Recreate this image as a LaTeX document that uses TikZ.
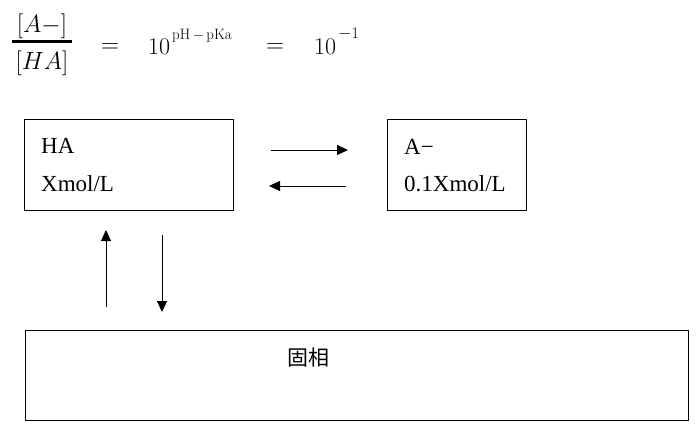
\documentclass[tikz,border=0pt]{standalone}
\usepackage{fontspec}
\newfontfamily\cjk{Noto Sans CJK JP}
\newfontfamily\lblfont{Liberation Serif}
\usetikzlibrary{arrows.meta}
\tikzset{
  box/.style={draw, line width=1.4pt, anchor=north west, inner sep=0pt},
  lbl/.style={anchor=base west, inner sep=0pt, font=\lblfont\fontsize{23}{26}\selectfont},
  arr/.style={line width=0.9pt, -{Triangle[length=11pt,width=10pt]}},
  mth/.style={inner sep=0pt, font=\fontsize{24}{28}\selectfont},
  sup/.style={anchor=base west, inner sep=0pt, font=\fontsize{15}{16}\selectfont},
}
\begin{document}
\begin{tikzpicture}[x=1pt,y=-1pt]
\useasboundingbox (0,0) rectangle (700,430);
% formula
\node[mth] (num) at (42,26) {$[A-]$};
\coordinate (fl) at (12,42);
\coordinate (fr) at (72,42);
\draw[line width=3pt] (fl) -- (fr);
\node[mth] (den) at (42,63.5) {$[HA]$};
\node[mth] (eq1) at (110,48) {$=$};
\node[mth, anchor=base west] (ten1) at (148,55) {10};
\node[sup] (ex1) at (172,40) {pH\,$-$\,pKa};
\node[mth] (eq2) at (275,48) {$=$};
\node[mth, anchor=base west] (ten2) at (314,55) {10};
\node[sup, font=\fontsize{16}{17}\selectfont] (ex2) at (338,39) {$-$1};
% boxes
\node[box, minimum width=209pt, minimum height=91pt] (ha) at (24,119) {};
\node[box, minimum width=139pt, minimum height=91pt] (am) at (387,119) {};
\node[box, minimum width=663pt, minimum height=90pt] (solid) at (25,330) {};
% labels
\node[lbl] (t1) at (41,154) {HA};
\node[lbl] (t2) at (41,192) {Xmol/L};
\node[lbl] (t3) at (404,155) {A−};
\node[lbl] (t4) at (404,192) {0.1Xmol/L};
\node[inner sep=0pt, font=\cjk\fontsize{21}{24}\selectfont] (t5) at (308,358) {固相};
% arrows
\coordinate (r1) at (271,150); \coordinate (r2) at (348,150);
\coordinate (l1) at (346,186); \coordinate (l2) at (269,186);
\coordinate (u1) at (106,307); \coordinate (u2) at (106,230);
\coordinate (d1) at (162,235); \coordinate (d2) at (162,312);
\draw[arr] (r1) -- (r2);
\draw[arr] (l1) -- (l2);
\draw[arr] (u1) -- (u2);
\draw[arr] (d1) -- (d2);
\end{tikzpicture}
\end{document}
